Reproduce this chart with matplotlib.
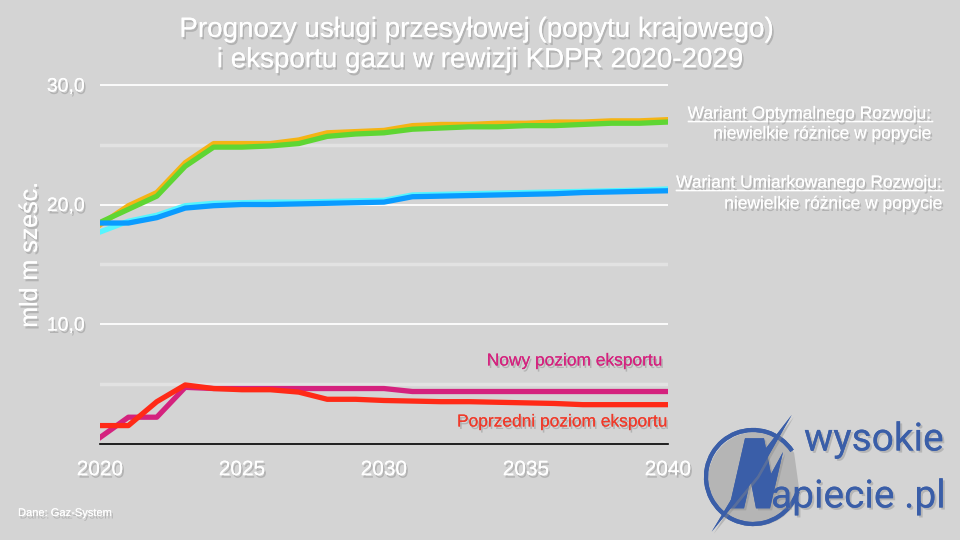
import matplotlib
matplotlib.use("Agg")
import matplotlib.pyplot as plt
import matplotlib.patheffects as pe
from matplotlib.patches import Arc, Polygon
from matplotlib.lines import Line2D

# Data (mld m szesc.)
years = list(range(2020, 2041))

opt_old = [18.3, 19.9, 21.0, 23.5, 25.1, 25.1, 25.1, 25.4, 26.0, 26.1, 26.2,
           26.6, 26.7, 26.7, 26.8, 26.8, 26.9, 26.9, 27.0, 27.0, 27.1]
opt_new = [18.5, 19.6, 20.7, 23.2, 24.8, 24.8, 24.9, 25.1, 25.7, 25.9, 26.0,
           26.3, 26.4, 26.5, 26.5, 26.6, 26.6, 26.7, 26.8, 26.8, 26.9]
umi_old = [17.7, 18.6, 19.1, 19.9, 20.1, 20.15, 20.2, 20.2, 20.25, 20.3, 20.35,
           20.8, 20.85, 20.9, 20.95, 21.0, 21.05, 21.1, 21.15, 21.2, 21.3]
umi_new = [18.45, 18.45, 18.9, 19.7, 19.9, 20.0, 20.0, 20.05, 20.1, 20.15, 20.2,
           20.65, 20.7, 20.75, 20.8, 20.85, 20.9, 21.0, 21.05, 21.1, 21.15]
exp_new = [0.5, 2.2, 2.2, 4.7, 4.6, 4.6, 4.6, 4.6, 4.6, 4.6, 4.6,
           4.35, 4.35, 4.35, 4.35, 4.35, 4.35, 4.35, 4.35, 4.35, 4.35]
exp_old = [1.5, 1.5, 3.5, 4.9, 4.6, 4.5, 4.5, 4.3, 3.7, 3.7, 3.6,
           3.55, 3.5, 3.5, 3.45, 3.4, 3.35, 3.25, 3.25, 3.25, 3.25]

y_ticks = [10, 20, 30]
y_tick_labels = ["10,0", "20,0", "30,0"]
x_ticks = [2020, 2025, 2030, 2035, 2040]

bg = "#d4d4d4"
font = "Liberation Sans"
shadow = [pe.withSimplePatchShadow(offset=(1.2, -1.8), shadow_rgbFace="#8a8a8a", alpha=0.45), pe.Normal()]


def fx(x):
    return x / 960


def fy(y):
    return 1 - y / 540


fig = plt.figure(figsize=(9.6, 5.4), dpi=100, facecolor=bg)
ax = fig.add_axes([fx(100), fy(443.5), 568 / 960, 31 * 11.95 / 540])
ax.set_facecolor(bg)
ax.set_xlim(2020, 2040)
ax.set_ylim(0, 31)
for s in ["top", "right", "left"]:
    ax.spines[s].set_visible(False)
ax.spines["bottom"].set_color("black")
ax.spines["bottom"].set_linewidth(1.2)

# grid lines
for v in [10, 20, 30]:
    ax.axhline(v, color="white", lw=1.3, zorder=1)
for v in [5, 15, 25]:
    ax.axhline(v, color="#e2e2e2", lw=2.5, zorder=1)

lw = 3.8
ax.plot(years, opt_old, color="#f5b414", lw=lw, zorder=3)
ax.plot(years, opt_new, color="#5fd633", lw=lw, zorder=4)
ax.plot(years, umi_old, color="#55f5ff", lw=lw, zorder=3)
ax.plot(years, umi_new, color="#0a9bff", lw=lw, zorder=4)
ax.plot(years, exp_new, color="#d4227e", lw=lw, zorder=3)
ax.plot(years, exp_old, color="#ff2a17", lw=lw, zorder=4)

ax.set_yticks(y_ticks)
ax.set_yticklabels(y_tick_labels)
ax.set_xticks(x_ticks)
ax.tick_params(axis="both", length=0, colors="white")
ax.tick_params(axis="x", pad=12, labelsize=15)
ax.tick_params(axis="y", pad=11, labelsize=14)
for lab in ax.get_xticklabels() + ax.get_yticklabels():
    lab.set_fontfamily(font)
    lab.set_path_effects(shadow)

fig.text(fx(30), fy(255), "mld m sześc.", rotation=90, ha="center", va="center",
         color="white", fontsize=18, family=font, path_effects=shadow)

fig.text(fx(476), fy(45), "Prognozy usługi przesyłowej (popytu krajowego)\n i eksportu gazu w rewizji KDPR 2020-2029",
         ha="center", va="center", color="white", fontsize=20, family=font,
         linespacing=1.22, path_effects=shadow)

# annotations on the right
notes = [
    ("Wariant Optymalnego Rozwoju:", 932, 114, 932, 134),
    ("Wariant Umiarkowanego Rozwoju:", 943, 183, 943, 204),
]
heads = []
for head, x1, y1, x2, y2 in notes:
    t = fig.text(fx(x1), fy(y1), head, ha="right", va="center", color="white",
                 fontsize=12.5, family=font, path_effects=shadow)
    heads.append(t)
    fig.text(fx(x2), fy(y2), "niewielkie różnice w popycie", ha="right", va="center",
             color="white", fontsize=12.5, family=font, path_effects=shadow)

fig.text(fx(663), fy(361), "Nowy poziom eksportu", ha="right", va="center",
         color="#d4227e", fontsize=12.5, family=font, path_effects=shadow)
fig.text(fx(668), fy(422), "Poprzedni poziom eksportu", ha="right", va="center",
         color="#f03a2a", fontsize=12.5, family=font, path_effects=shadow)

fig.text(fx(18), fy(513), "Dane: Gaz-System", ha="left", va="center",
         color="white", fontsize=8, family=font, path_effects=shadow)

# underline for headings
fig.canvas.draw()
r = fig.canvas.get_renderer()
for t in heads:
    bb = t.get_window_extent(r)
    fig.add_artist(Line2D([bb.x0 / 960, bb.x1 / 960], [(bb.y0 + 1) / 540] * 2,
                          color="white", lw=1, path_effects=shadow))

# logo
logo = "#3a5ea8"
lshadow = [pe.withSimplePatchShadow(offset=(1.5, -1.5), shadow_rgbFace="#888888", alpha=0.4), pe.Normal()]
arc = Arc((fx(753), fy(477)), 94 / 960, 94 / 540, theta1=50, theta2=330,
          transform=fig.transFigure, color=logo, lw=3, path_effects=lshadow)
fig.add_artist(arc)
n_pts = [(729, 508.3), (745, 438.3), (764, 438.3), (771, 474), (783, 452),
         (770, 508.3), (756, 508.3), (750.5, 480), (744, 508.3)]
fig.add_artist(Polygon([(fx(x), fy(y)) for x, y in n_pts], closed=True, transform=fig.transFigure,
                       facecolor=logo, edgecolor="none", path_effects=lshadow))
bolt_pts = [(791.7, 415), (757, 476), (711.7, 531.7), (749, 470)]
fig.add_artist(Polygon([(fx(x), fy(y)) for x, y in bolt_pts], closed=True, transform=fig.transFigure,
                       facecolor=logo, edgecolor="none", path_effects=lshadow))
fig.text(fx(804), fy(440), "wysokie", ha="left", va="center", color=logo, fontsize=28,
         family="Roboto", path_effects=lshadow)
fig.text(fx(771), fy(497), "apiecie .pl", ha="left", va="center", color=logo, fontsize=28,
         family="Roboto", path_effects=lshadow)

fig.savefig("out.png", dpi=100, facecolor=bg)
